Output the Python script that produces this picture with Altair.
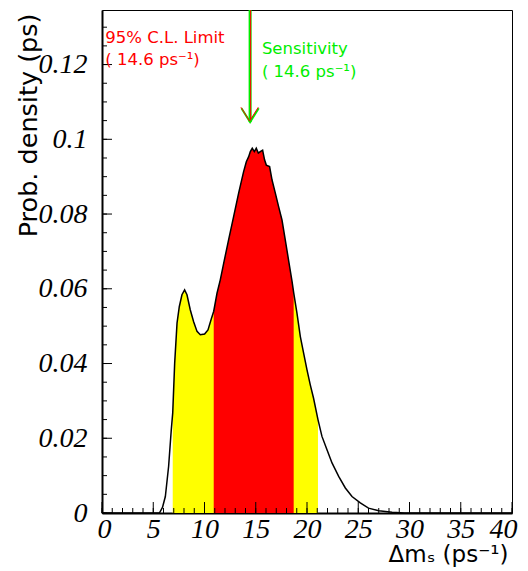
import altair as alt
import pandas as pd

# ---- data ----
xs = [0, 5.0, 5.6, 5.9, 6.18, 6.5, 6.76, 6.9, 7.09, 7.32, 7.54, 7.8, 8.06, 8.29,
      8.61, 8.94, 9.27, 9.59, 10.01, 10.34, 10.66, 10.9, 11.22, 11.54, 11.87,
      12.35, 12.84, 13.33, 13.81, 14.08, 14.3, 14.47, 14.66, 14.86, 15.05, 15.25,
      15.44, 15.67, 15.86, 16.03, 16.35, 16.59, 16.91, 17.23, 17.56, 17.88, 18.2,
      18.54, 18.7, 19.02, 19.35, 19.67, 20.0, 20.32, 20.64, 21.07, 21.46, 21.95,
      22.44, 23.09, 23.74, 24.39, 25.2, 26.0, 27.0, 28.3, 29.5, 40]
ys = [0, 0, 0, 0.0015, 0.0044, 0.0125, 0.0223, 0.0268, 0.0401, 0.0508, 0.0552,
      0.0584, 0.0597, 0.0584, 0.0544, 0.0512, 0.0486, 0.0477, 0.0479, 0.0490,
      0.0519, 0.0540, 0.0588, 0.0624, 0.0668, 0.0731, 0.0793, 0.0856, 0.0913,
      0.0940, 0.0953, 0.0967, 0.0976, 0.0967, 0.0976, 0.0963, 0.0967, 0.0971,
      0.0945, 0.0931, 0.0927, 0.0891, 0.0856, 0.0820, 0.0784, 0.0731, 0.0677,
      0.0620, 0.0590, 0.0535, 0.0472, 0.0428, 0.0383, 0.0343, 0.0307, 0.0250,
      0.0205, 0.0169, 0.0134, 0.0098, 0.0067, 0.0044, 0.0027, 0.0013, 0.0006,
      0.0002, 0, 0]

yellow_band = [6.9, 21.07]
red_band = [10.9, 18.7]
limit_value = 14.45
arrow_tip = 0.1046

x_major = [0, 5, 10, 15, 20, 25, 30, 35, 40]
x_minor = list(range(0, 41))
y_major = [0, 0.02, 0.04, 0.06, 0.08, 0.1, 0.12]
y_minor = [round(i * 0.005, 3) for i in range(0, 27)]

limit_lines = ["95% C.L. Limit", "( 14.6 ps⁻¹)"]
sens_lines = ["Sensitivity", "( 14.6 ps⁻¹)"]

W, H = 410, 503
XMAX, YMAX = 40, 0.1346
SANS = "DejaVu Sans"

curve = pd.DataFrame({"x": xs, "y": ys})
xscale = alt.Scale(domain=[0, XMAX], nice=False, zero=False)
yscale = alt.Scale(domain=[0, YMAX], nice=False)

x_axis = alt.Axis(values=x_major, format="d", title="Δmₛ (ps⁻¹)",
                  labelPadding=2, labelFlush=True, labelFlushOffset=5,
                  labelOverlap=False,
                  titleX=406, titleY=48, titleAlign="right",
                  titleBaseline="alphabetic", titleFontSize=23)
y_axis = alt.Axis(values=y_major, format="~g", title="Prob. density (ps)",
                  labelPadding=15, labelOverlap=False, labelFlush=False,
                  titleX=-66, titleY=3, titleAngle=270, titleAlign="right",
                  titleBaseline="alphabetic", titleFontSize=25.5)

base = alt.Chart(curve)
X = alt.X("x:Q", scale=xscale, axis=x_axis)
Y = alt.Y("y:Q", scale=yscale, axis=y_axis)

yellow = base.mark_area(color="#ffff00", opacity=1).encode(x=X, y=Y).transform_filter(
    f"datum.x >= {yellow_band[0]} && datum.x <= {yellow_band[1]}")
red = base.mark_area(color="#ff0000", opacity=1).encode(x=X, y=Y).transform_filter(
    f"datum.x >= {red_band[0]} && datum.x <= {red_band[1]}")
line = base.mark_line(color="black", strokeWidth=1.5).encode(x=X, y=Y)

def xticks(vals, length):
    return alt.Chart(pd.DataFrame({"t": vals})).mark_rule(color="black", strokeWidth=1).encode(
        x=alt.X("t:Q", scale=xscale), y=alt.value(H), y2=alt.value(H - length))

def yticks(vals, length):
    return alt.Chart(pd.DataFrame({"t": vals})).mark_rule(color="black", strokeWidth=1).encode(
        y=alt.Y("t:Q", scale=yscale), x=alt.value(0), x2=alt.value(length))

one = pd.DataFrame({"a": [0]})

def arrow_rule(color, width, off):
    return alt.Chart(one).mark_rule(color=color, strokeWidth=width, xOffset=off).encode(
        x=alt.datum(limit_value, scale=xscale), y=alt.datum(arrow_tip, scale=yscale),
        y2=alt.value(0))

def arrow_head(color, width, xo, yo):
    return alt.Chart(one).mark_point(
        shape="M -1 -1.6 L 0 0 L 1 -1.6", size=300, filled=False, stroke=color,
        strokeWidth=width, opacity=1, xOffset=xo, yOffset=yo).encode(
        x=alt.datum(limit_value, scale=xscale), y=alt.datum(arrow_tip, scale=yscale))

def label(text, color, xv, yv):
    return alt.Chart(one).mark_text(
        text=text, color=color, font=SANS, fontSize=16.5,
        align="left", baseline="alphabetic").encode(
        x=alt.datum(xv, scale=xscale), y=alt.datum(yv, scale=yscale))

GREEN = "#00ee00"
chart = alt.layer(
    yellow, red, line,
    xticks(x_minor, 5), xticks(x_major, 11),
    yticks(y_minor, 5), yticks(y_major, 10),
    arrow_rule(GREEN, 3, 0), arrow_rule("#ff0000", 1, 0.5),
    arrow_head(GREEN, 2, 0, 0), arrow_head("#ff0000", 1, -0.5, -1),
    label(limit_lines[0], "#ff0000", 0.32, 0.1258),
    label(limit_lines[1], "#ff0000", 0.32, 0.1199),
    label(sens_lines[0], GREEN, 15.6, 0.1227),
    label(sens_lines[1], GREEN, 15.6, 0.1166),
).properties(
    width=W, height=H, autosize="none",
    padding={"left": 94, "top": 2, "right": 8, "bottom": 58},
    background="white",
).configure_view(stroke="black", strokeWidth=1).configure_axis(
    grid=False, ticks=False, tickSize=0, domainColor="black", domainWidth=2,
    labelFont="Liberation Serif", labelFontStyle="italic", labelFontSize=28,
    labelColor="black", titleFont=SANS, titleColor="black",
    titleFontWeight="normal")

chart.save("out.html", embed_options={"renderer": "svg", "actions": False})
